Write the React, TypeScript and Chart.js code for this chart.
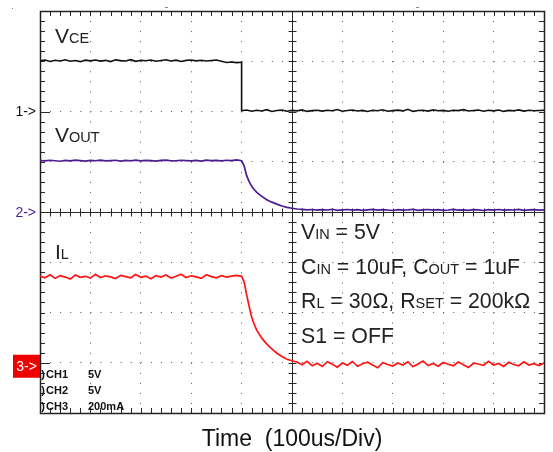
import React, { useEffect, useRef } from "react";
import { Chart, registerables } from "chart.js";

Chart.register(...registerables);

// ---------- data (time in microseconds) ----------
const ch1TimeUs = [
  0, 10, 20, 30, 40, 50, 60, 70, 80, 90, 100, 110, 120, 130, 140, 150, 160, 170, 180, 190,
  200, 210, 220, 230, 240, 250, 260, 270, 280, 290, 300, 310, 320, 330, 340, 350, 360, 370, 380, 390,
  400, 400, 410, 420, 430, 440, 450, 460, 470, 480, 490, 500, 510, 520, 530, 540, 550, 560, 570, 580,
  590, 600, 610, 620, 630, 640, 650, 660, 670, 680, 690, 700, 710, 720, 730, 740, 750, 760, 770, 780,
  790, 800, 810, 820, 830, 840, 850, 860, 870, 880, 890, 900, 910, 920, 930, 940, 950, 960, 970, 980,
  990, 1000,
];
const ch1Volts = [
  5.05, 5.12, 4.98, 5.10, 5.03, 5.15, 5.00, 5.08, 4.96, 5.11,
  5.04, 5.13, 5.01, 5.09, 4.97, 5.14, 5.06, 5.02, 5.16, 4.99,
  5.10, 5.05, 5.12, 5.00, 5.08, 5.15, 5.03, 5.11, 4.98, 5.09,
  5.13, 5.04, 5.10, 5.02, 5.07, 5.12, 5.00, 4.88, 4.92, 4.86,
  4.90,
  0.08, 0.15, 0.02, 0.12, 0.05, 0.18, 0.00, 0.10, 0.14, 0.03,
  0.11, 0.06, 0.16, 0.01, 0.09, 0.13, 0.04, 0.12, 0.07, 0.20,
  0.02, 0.10, 0.15, 0.05, 0.11, 0.00, 0.13, 0.08, 0.17, 0.03,
  0.09, 0.14, 0.06, 0.22, 0.01, 0.10, 0.12, 0.04, 0.16, 0.07,
  0.11, 0.02, 0.13, 0.09, 0.18, 0.05, 0.10, 0.14, 0.03, 0.12,
  0.06, 0.15, 0.01, 0.11, 0.08, 0.16, 0.04, 0.13, 0.07, 0.10,
  0.12,
];

const sampleTimeUs = [
  0, 10, 20, 30, 40, 50, 60, 70, 80, 90, 100, 110, 120, 130, 140, 150, 160, 170, 180, 190,
  200, 210, 220, 230, 240, 250, 260, 270, 280, 290, 300, 310, 320, 330, 340, 350, 360, 370, 380, 390,
  400, 405, 410, 415, 420, 425, 430,
  440, 450, 460, 470, 480, 490, 500, 510, 520, 530, 540, 550, 560, 570, 580,
  590, 600, 610, 620, 630, 640, 650, 660, 670, 680, 690, 700, 710, 720, 730, 740, 750, 760, 770, 780,
  790, 800, 810, 820, 830, 840, 850, 860, 870, 880, 890, 900, 910, 920, 930, 940, 950, 960, 970, 980,
  990, 1000,
];
const ch2Volts = [
  5.12, 5.08, 5.15, 5.10, 5.05, 5.13, 5.09, 5.16, 5.11, 5.06,
  5.14, 5.10, 5.17, 5.08, 5.12, 5.15, 5.07, 5.13, 5.10, 5.16,
  5.09, 5.14, 5.11, 5.06, 5.13, 5.17, 5.10, 5.08, 5.15, 5.12,
  5.09, 5.14, 5.07, 5.16, 5.11, 5.13, 5.08, 5.15, 5.12, 5.18,
  5.10,
  4.60, 3.62, 3.02, 2.55, 2.24, 1.96,
  1.55, 1.22, 0.98, 0.78, 0.60, 0.46, 0.37,
  0.30, 0.26, 0.22, 0.25, 0.18, 0.23, 0.20, 0.27, 0.17, 0.22,
  0.25, 0.19, 0.24, 0.16, 0.21, 0.26, 0.18, 0.23, 0.20, 0.15,
  0.24, 0.19, 0.22, 0.27, 0.17, 0.21, 0.25, 0.18, 0.23, 0.16,
  0.20, 0.26, 0.19, 0.22, 0.17, 0.24, 0.21, 0.15, 0.23, 0.19,
  0.25, 0.18, 0.22, 0.20, 0.26, 0.17, 0.21, 0.24, 0.19, 0.22,
];
const ch3mA = [
  345, 338, 350, 336, 347, 341, 333, 349, 340, 344,
  337, 352, 339, 346, 342, 335, 348, 343, 338, 351,
  340, 345, 334, 347, 341, 349, 337, 344, 352, 339,
  346, 342, 336, 350, 343, 338, 347, 341, 345, 348,
  344,
  322, 270, 224, 181, 153, 130,
  98, 74, 55, 38, 25, 14, 8,
  3, -8, 6, -12, -2, -15, 4, -6, -18, -1,
  -10, 5, -14, -4, 2, -9, -20, 0, -7, -13,
  -1, -9, 4, -16, -5, 7, -11, -3, -14, 1,
  -6, -12, 3, -8, -19, -2, -5, -10, 6, -9,
  -3, -15, 2, -7, -12, 4, -9, -4, -11, -1,
];

// scope readout labels
const channelNames = ["1) ", "2) ", "3) "];
const channelIds = ["CH1", "CH2", "CH3"];
const channelScale = ["5V", "5V", "200mA"];
const timeTitle = "Time  (100us/Div)";
const conditionLines: Array<Array<[string, boolean]>> = [
  [["V", false], ["IN", true], [" = 5V", false]],
  [["C", false], ["IN", true], [" = 10uF, C", false], ["OUT", true], [" = 1uF", false]],
  [["R", false], ["L", true], [" = 30\u03A9, R", false], ["SET", true], [" = 200k\u03A9", false]],
  [["S1 = OFF", false]],
];

const FONT = '"Liberation Sans", Arial, Helvetica, sans-serif';
const C1 = "#111111";
const C2 = "#4b1c8f";
const C3 = "#ff1414";

function drawRich(ctx: CanvasRenderingContext2D, x: number, y: number, parts: Array<[string, boolean]>, big: number, small: number, color: string) {
  ctx.fillStyle = color;
  ctx.textAlign = "left";
  ctx.textBaseline = "alphabetic";
  let cx = x;
  for (const [t, sub] of parts) {
    ctx.font = `${sub ? small : big}px ${FONT}`;
    ctx.fillText(t, cx, y);
    cx += ctx.measureText(t).width;
  }
}

const scopePlugin = {
  id: "scopeGraticule",
  beforeDraw(chart: any) {
    const ctx = chart.ctx;
    ctx.save();
    ctx.fillStyle = "#ffffff";
    ctx.fillRect(0, 0, chart.width, chart.height);
    ctx.restore();
  },
  beforeDatasetsDraw(chart: any) {
    const ctx: CanvasRenderingContext2D = chart.ctx;
    const { left, right, top, bottom } = chart.chartArea;
    const xs = chart.scales.x;
    const ys = chart.scales.y;
    const cx = Math.round(xs.getPixelForValue(500)) + 0.5;
    const cy = Math.round(ys.getPixelForValue(4)) + 0.5;
    ctx.save();
    ctx.strokeStyle = "#2a2a2a";
    ctx.lineWidth = 1;
    ctx.beginPath();
    ctx.moveTo(cx, top); ctx.lineTo(cx, bottom);
    ctx.moveTo(left, cy); ctx.lineTo(right, cy);
    for (let i = 0; i <= 50; i++) {
      const x = Math.round(xs.getPixelForValue(i * 20)) + 0.5;
      ctx.moveTo(x, top); ctx.lineTo(x, top + 5);
      ctx.moveTo(x, bottom); ctx.lineTo(x, bottom - 5);
      ctx.moveTo(x, cy - 4); ctx.lineTo(x, cy + 4);
    }
    for (let j = 0; j <= 40; j++) {
      const y = Math.round(ys.getPixelForValue(j * 0.2)) + 0.5;
      ctx.moveTo(left, y); ctx.lineTo(left + 5, y);
      ctx.moveTo(right, y); ctx.lineTo(right - 5, y);
      ctx.moveTo(cx - 4, y); ctx.lineTo(cx + 4, y);
    }
    const g1 = Math.round(chart.scales.y1.getPixelForValue(0)) + 0.5;
    const g3 = Math.round(chart.scales.y3.getPixelForValue(0)) + 0.5;
    ctx.moveTo(left, g1); ctx.lineTo(left + 10, g1);
    ctx.moveTo(left, g3); ctx.lineTo(left + 10, g3);
    ctx.stroke();
    ctx.lineWidth = 1.5;
    ctx.strokeStyle = "#222222";
    ctx.strokeRect(Math.round(left) + 0.5, Math.round(top) + 0.5, Math.round(right - left), Math.round(bottom - top));
    ctx.lineWidth = 1;
    ctx.strokeStyle = "#888888";
    ctx.beginPath();
    ctx.moveTo(165, 7.5); ctx.lineTo(168, 7.5);
    ctx.moveTo(416, 7.5); ctx.lineTo(419, 7.5);
    ctx.moveTo(12, 8.5); ctx.lineTo(13, 8.5);
    ctx.stroke();
    ctx.restore();
  },
  afterDatasetsDraw(chart: any) {
    const ctx: CanvasRenderingContext2D = chart.ctx;
    const { left, right, top, bottom } = chart.chartArea;
    const g1 = chart.scales.y1.getPixelForValue(0);
    const g2 = chart.scales.y2.getPixelForValue(0);
    const g3 = chart.scales.y3.getPixelForValue(0);
    ctx.save();
    drawRich(ctx, left + 15, top + 32, [["V", false], ["CE", true]], 21, 14.5, "#222");
    drawRich(ctx, left + 15, top + 131, [["V", false], ["OUT", true]], 21, 14.5, "#222");
    drawRich(ctx, left + 15, top + 248, [["I", false], ["L", true]], 21, 14.5, "#222");
    conditionLines.forEach((parts, i) => {
      drawRich(ctx, left + 261, top + 228 + i * 34.5, parts, 21.3, 14.5, "#222");
    });
    ctx.font = `14px ${FONT}`;
    ctx.textAlign = "right";
    ctx.textBaseline = "middle";
    ctx.fillStyle = C1;
    ctx.fillText("1->", left - 4, g1 + 1);
    ctx.fillStyle = C2;
    ctx.fillText("2->", left - 4, g2 + 1);
    ctx.fillStyle = "#ee0000";
    ctx.fillRect(13, g3 - 8, left - 13, 23);
    ctx.fillStyle = "#ffffff";
    ctx.textAlign = "center";
    ctx.fillText("3->", (13 + left) / 2, g3 + 4);
    // channel scale readout
    ctx.save();
    ctx.beginPath();
    ctx.rect(left + 0.5, top, right - left, bottom - top + 2);
    ctx.clip();
    ctx.font = `bold 11px ${FONT}`;
    ctx.fillStyle = "#111";
    ctx.textBaseline = "alphabetic";
    channelScale.forEach((s, i) => {
      const yb = bottom - 35 + i * 16;
      ctx.textAlign = "right";
      ctx.fillText(channelNames[i].trim(), left + 5, yb);
      ctx.textAlign = "left";
      ctx.fillText(channelIds[i], left + 6, yb);
      ctx.fillText(s, left + 48, yb);
    });
    ctx.restore();
    ctx.font = `23px ${FONT}`;
    ctx.fillStyle = "#111";
    ctx.textAlign = "center";
    ctx.textBaseline = "alphabetic";
    ctx.fillText(timeTitle, (left + right) / 2, bottom + 33);
    ctx.restore();
  },
};

export default function App() {
  const ref = useRef<HTMLCanvasElement | null>(null);
  useEffect(() => {
    const canvas = ref.current;
    if (!canvas) return;
    const pts = (t: number[], v: number[]) => t.map((x, i) => ({ x, y: v[i] }));
    const chart = new Chart(canvas, {
      type: "line",
      data: {
        datasets: [
          { label: "VCE", data: pts(ch1TimeUs, ch1Volts), yAxisID: "y1", borderColor: C1, borderWidth: 1.6, pointRadius: 0, tension: 0, fill: false },
          { label: "VOUT", data: pts(sampleTimeUs, ch2Volts), yAxisID: "y2", borderColor: C2, borderWidth: 1.7, pointRadius: 0, tension: 0, fill: false },
          { label: "IL", data: pts(sampleTimeUs, ch3mA), yAxisID: "y3", borderColor: C3, borderWidth: 1.7, pointRadius: 0, tension: 0, fill: false },
        ],
      },
      options: {
        responsive: false,
        animation: false,
        layout: { padding: { left: 40, top: 11, right: 9, bottom: 39 } },
        plugins: { legend: { display: false }, tooltip: { enabled: false } },
        events: [],
        scales: {
          x: {
            type: "linear", min: 0, max: 1000,
            ticks: { display: false, stepSize: 100 },
            grid: { color: "#555555", lineWidth: 1, drawTicks: false },
            border: { display: false, dash: [1, 9.05] },
            afterFit: (s: any) => { s.height = 0; },
          },
          y: {
            type: "linear", min: 0, max: 8,
            ticks: { display: false, stepSize: 1 },
            grid: { color: "#555555", lineWidth: 1, drawTicks: false },
            border: { display: false, dash: [1, 9.08] },
            afterFit: (s: any) => { s.width = 0; },
          },
          y1: { type: "linear", min: -30, max: 10, display: false },
          y2: { type: "linear", min: -20, max: 20, display: false },
          y3: { type: "linear", min: -200, max: 1400, display: false },
        },
      } as any,
      plugins: [scopePlugin as any],
    });
    return () => chart.destroy();
  }, []);
  return (
    <div style={{ position: "fixed", left: 0, top: 0, width: 553, height: 452, background: "#fff" }}>
      <canvas ref={ref} width={553} height={452} style={{ display: "block" }} />
    </div>
  );
}
